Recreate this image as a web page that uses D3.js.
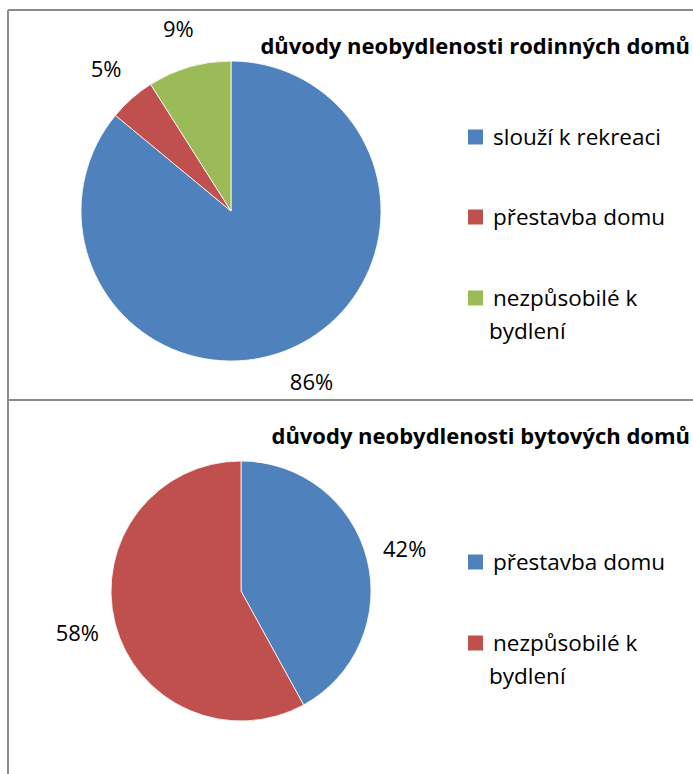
<!DOCTYPE html>
<html>
<head>
<meta charset="utf-8">
<script src="https://cdn.jsdelivr.net/npm/d3@7"></script>
<style>
  body { margin: 0; background: #fff; }
  text { font-family: 'Open Sans', sans-serif; fill: #000; }
</style>
</head>
<body>
<div id="chart"></div>
<script>
// two pie charts, stacked

const width = 693
const height = 774

// chart 1 data
const title1 = 'důvody neobydlenosti rodinných domů'
const cats1 = ['slouží k rekreaci', 'přestavba domu', 'nezpůsobilé k bydlení']
const vals1 = [86, 5, 9]
const colors1 = ['#4f81bd', '#c0504d', '#9bbb59']

// chart 2 data
const title2 = 'důvody neobydlenosti bytových domů'
const cats2 = ['přestavba domu', 'nezpůsobilé k bydlení']
const vals2 = [42, 58]
const colors2 = ['#4f81bd', '#c0504d']

const svg = d3.select('#chart').append('svg')
  .attr('width', width).attr('height', height)

// frame lines
const frame = svg.append('g').attr('stroke', '#8c8c8c').attr('stroke-width', 2)
frame.append('line').attr('x1', 8).attr('x2', width).attr('y1', 10).attr('y2', 10)
frame.append('line').attr('x1', 8).attr('x2', 8).attr('y1', 10).attr('y2', height)
frame.append('line').attr('x1', 8).attr('x2', width).attr('y1', 400).attr('y2', 400)

const pie = d3.pie().sort(null).value(d => d)

function drawPie (opt) {
  const g = svg.append('g')

  g.append('text')
    .attr('x', 690).attr('y', opt.titleY)
    .attr('text-anchor', 'end')
    .style('font-weight', 'bold')
    .style('font-size', '22px')
    .text(opt.title)

  const arcs = pie(opt.values)
  const arc = d3.arc().innerRadius(0).outerRadius(opt.r)
  const labelArc = d3.arc().innerRadius(opt.r + 39).outerRadius(opt.r + 39)

  const pg = g.append('g').attr('transform', 'translate(' + opt.cx + ',' + opt.cy + ')')
  pg.selectAll('path')
    .data(arcs)
    .join('path')
    .attr('d', arc)
    .attr('fill', (d, i) => opt.colors[i])
    .attr('stroke', '#fff')
    .attr('stroke-width', 0.8)

  pg.selectAll('text')
    .data(arcs)
    .join('text')
    .attr('transform', d => 'translate(' + labelArc.centroid(d) + ')')
    .attr('text-anchor', 'middle')
    .attr('dy', '0.35em')
    .style('font-size', '22px')
    .text(d => Math.round(d.data) + '%')

  // legend
  const lg = g.append('g')
  opt.cats.forEach((c, i) => {
    const y = opt.legendY[i]
    lg.append('rect')
      .attr('x', 468).attr('y', y - 7.5)
      .attr('width', 15).attr('height', 15)
      .attr('fill', opt.colors[i])
    const t = lg.append('text')
      .attr('x', 493).attr('y', y)
      .attr('dy', '0.35em')
      .style('font-size', '22.5px')
    if (c === 'nezpůsobilé k bydlení') {
      t.append('tspan').text('nezpůsobilé k')
      t.append('tspan').attr('x', 489).attr('dy', 33).text('bydlení')
    } else {
      t.text(c)
    }
  })
}

drawPie({
  title: title1, titleY: 54, values: vals1, cats: cats1, colors: colors1,
  cx: 231, cy: 211, r: 150, legendY: [137, 217, 298]
})

drawPie({
  title: title2, titleY: 444, values: vals2, cats: cats2, colors: colors2,
  cx: 241, cy: 591, r: 130, legendY: [562, 643]
})
</script>
</body>
</html>
